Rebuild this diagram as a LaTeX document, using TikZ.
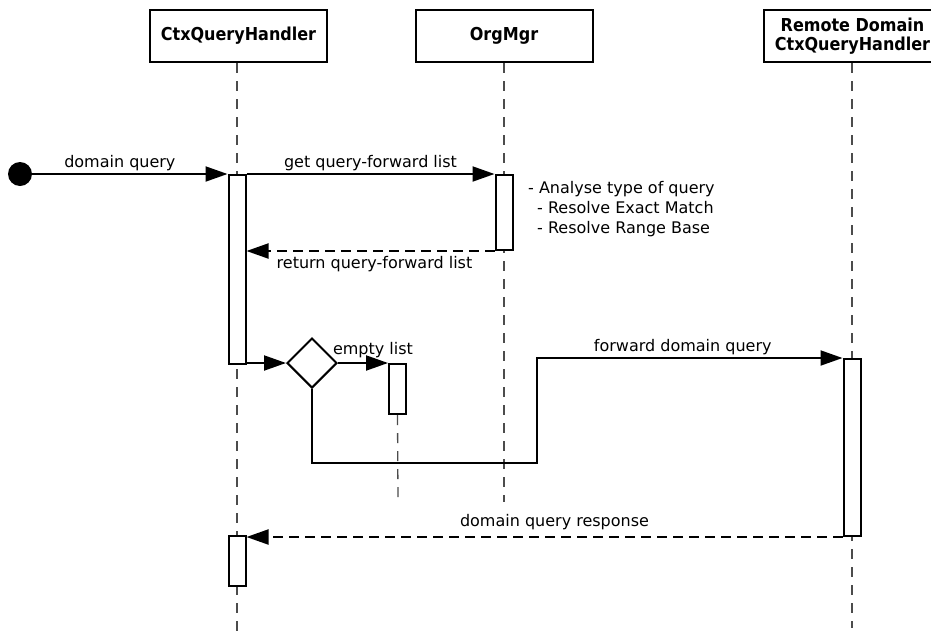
\documentclass[tikz,border=0pt]{standalone}
\usepackage{fontspec}
\setmainfont{DejaVu Sans}
\IfFontExistsTF{DejaVu Sans Condensed}
  {\newfontfamily\hdrfont{DejaVu Sans Condensed}\newcommand\hdrsize{\fontsize{17.8}{19.5}}}
  {\newfontfamily\hdrfont{DejaVu Sans}\newcommand\hdrsize{\fontsize{16.4}{19.5}}}
\usetikzlibrary{arrows.meta,shapes.geometric}
\begin{document}
\begin{tikzpicture}[x=1pt,y=-1pt,
  every node/.style={font=\fontsize{16}{19}\selectfont},
  header/.style={draw,line width=2pt,fill=white,minimum width=177pt,minimum height=52pt,inner sep=0pt,align=center,font=\hdrfont\hdrsize\selectfont\bfseries},
  lifeline/.style={draw=black!70,line width=1.3pt,dash pattern=on 10pt off 8pt},
  bar/.style={draw,line width=2pt,fill=white,minimum width=17pt,inner sep=0pt,anchor=north},
  msg/.style={line width=2pt,-{Triangle[length=22pt,width=15pt]}},
  ret/.style={msg,dash pattern=on 10pt off 6pt},
  lbl/.style={inner sep=1pt,anchor=base},
  dec/.style={diamond,draw,line width=2pt,fill=white,minimum width=50pt,minimum height=50pt,inner sep=0pt}
]
\useasboundingbox (0,0) rectangle (931,635);
% headers
\node[header] (h1) at (238.5,36) {CtxQueryHandler};
\node[header] (h2) at (504,36) {OrgMgr};
\node[header] (h3) at (852.5,36) {Remote Domain\\CtxQueryHandler};
% lifeline end points
\coordinate (e1) at (237,635);
\coordinate (e2) at (504,502);
\coordinate (e3) at (852,628);
\coordinate (e4) at (398,502);
\draw[lifeline] (h1.south -| e1) -- (e1);
\draw[lifeline] (h2.south) -- (e2);
\draw[lifeline] (h3.south -| e3) -- (e3);
% activation bars
\node[bar,minimum height=189pt] (b1) at (237,174) {};
\node[bar,minimum height=75pt] (b2) at (504,174) {};
\node[bar,minimum height=50pt] (b3) at (397.5,363) {};
\node[bar,minimum height=177pt] (b4) at (852,358) {};
\node[bar,minimum height=50pt] (b5) at (237,535) {};
\draw[lifeline] (b3.south) -- (e4);
% start
\node[circle,fill=black,minimum size=24pt,inner sep=0pt] (s) at (20,174) {};
\draw[msg] (s.east) -- (s.east -| b1.west) node[lbl,midway,above=1pt,xshift=-10pt] {domain query};
\draw[msg] (b1.north east) -- (b2.north west) node[lbl,midway,above=1pt] {get query-forward list};
\draw[ret] (b2.south west) -- (b2.south west -| b1.east) node[lbl,midway,below=3pt,xshift=4pt] {return query-forward list};
\node[anchor=base west,inner sep=0pt] (note) at (528,193) {- Analyse type of query};
\node[anchor=base west,inner sep=0pt] (note2) at (537,213) {- Resolve Exact Match};
\node[anchor=base west,inner sep=0pt] (note3) at (537,233) {- Resolve Range Base};
% decision
\node[dec] (d) at (312,363) {};
\draw[msg] (d.west -| b1.east) -- (d.west);
\draw[msg] (d.east) -- (d.east -| b3.west) node[lbl,pos=0.6,above=3pt,xshift=5pt] {empty list};
\coordinate (j1) at (537,463);
\coordinate (j2) at (537,358);
\draw[msg] (d.south) |- (j1) -- (j2) -- (j2 -| b4.west) node[lbl,midway,above=1pt,xshift=-7pt] {forward domain query};
\draw[ret] (b4.south west) -- (b4.south west -| b5.east) node[lbl,midway,above=5pt,xshift=10pt] {domain query response};
\end{tikzpicture}
\end{document}
